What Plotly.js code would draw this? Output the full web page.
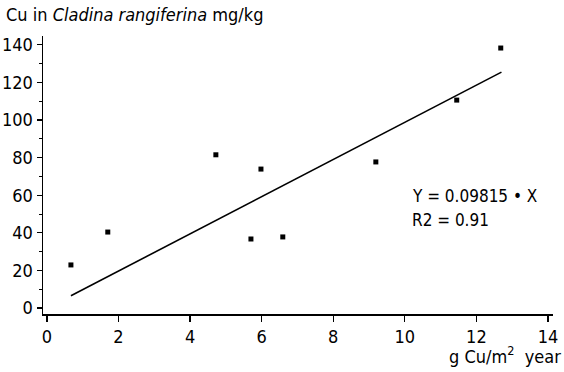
<!DOCTYPE html>
<html>
<head>
<meta charset="utf-8">
<script src="https://cdn.plot.ly/plotly-3.0.1.min.js"></script>
<style>html,body{margin:0;padding:0;background:#fff;}#chart{width:564px;height:372px;}</style>
</head>
<body>
<div id="chart"></div>
<script>
// Cu deposition (g Cu/m2 year) vs Cu in Cladina rangiferina (mg/kg)
const depositionX = [0.67, 1.70, 4.72, 5.98, 5.70, 6.59, 9.19, 11.45, 12.68];
const cuLichenY   = [22.9, 40.4, 81.5, 73.9, 36.7, 37.8, 77.7, 110.6, 138.3];
const fitX = [0.67, 12.70];
const fitY = [6.5, 125.5];
const xTicks = [0, 2, 4, 6, 8, 10, 12, 14];
const yTicks = [0, 20, 40, 60, 80, 100, 120, 140];
const equationText = "Y = 0.09815 \u2022 X";
const r2Text = "R2 = 0.91";

const FONT = "DejaVu Sans Condensed, DejaVu Sans, sans-serif";

const traces = [
  {
    x: fitX, y: fitY, type: "scatter", mode: "lines",
    line: {color: "#000", width: 1.6}, hoverinfo: "skip", showlegend: false
  },
  {
    x: depositionX, y: cuLichenY, type: "scatter", mode: "markers",
    marker: {symbol: "square", size: 5, color: "#000"}, showlegend: false
  }
];

const layout = {
  width: 564, height: 372,
  margin: {l: 43, r: 11, t: 36, b: 58},
  paper_bgcolor: "#fff", plot_bgcolor: "#fff",
  font: {family: FONT, size: 18, color: "#000"},
  title: {
    text: "Cu in <i>Cladina rangiferina</i> mg/kg",
    font: {family: FONT, size: 18, color: "#000"},
    xref: "container", yref: "container",
    x: 6/564, xanchor: "left", y: 1 - 15/372, yanchor: "middle"
  },
  xaxis: {
    range: [-0.11, 14.14], tickvals: xTicks, ticktext: xTicks.map(String),
    showgrid: false, zeroline: false, showline: true, linecolor: "#000", linewidth: 1.5,
    ticks: "outside", ticklen: 6, tickwidth: 1.2, tickcolor: "#000",
    tickfont: {family: FONT, size: 18, color: "#000"}, fixedrange: true
  },
  yaxis: {
    range: [-3.2, 144.7], tickvals: yTicks, ticktext: yTicks.map(String),
    showgrid: false, zeroline: false, showline: true, linecolor: "#000", linewidth: 1.5,
    ticks: "outside", ticklen: 5, tickwidth: 1.2, tickcolor: "#000",
    minor: {dtick: 10, ticks: "outside", ticklen: 3, tickwidth: 1, tickcolor: "#000", showgrid: false},
    tickfont: {family: FONT, size: 18, color: "#000"}, fixedrange: true
  },
  annotations: [
    {
      text: "g Cu/m<sup>2</sup>  year", xref: "paper", yref: "paper",
      x: 1 + 10/510, xanchor: "right", y: -(355-314)/278, yanchor: "middle",
      showarrow: false, font: {family: FONT, size: 18, color: "#000"}
    },
    {
      text: equationText, xref: "x", yref: "y", x: 10.15, y: 59.6,
      xanchor: "left", yanchor: "middle", showarrow: false,
      font: {family: FONT, size: 17, color: "#000"}
    },
    {
      text: r2Text, xref: "x", yref: "y", x: 10.15, y: 46.8,
      xanchor: "left", yanchor: "middle", showarrow: false,
      font: {family: FONT, size: 17, color: "#000"}
    }
  ]
};

Plotly.newPlot("chart", traces, layout, {staticPlot: true, displayModeBar: false});
</script>
</body>
</html>
